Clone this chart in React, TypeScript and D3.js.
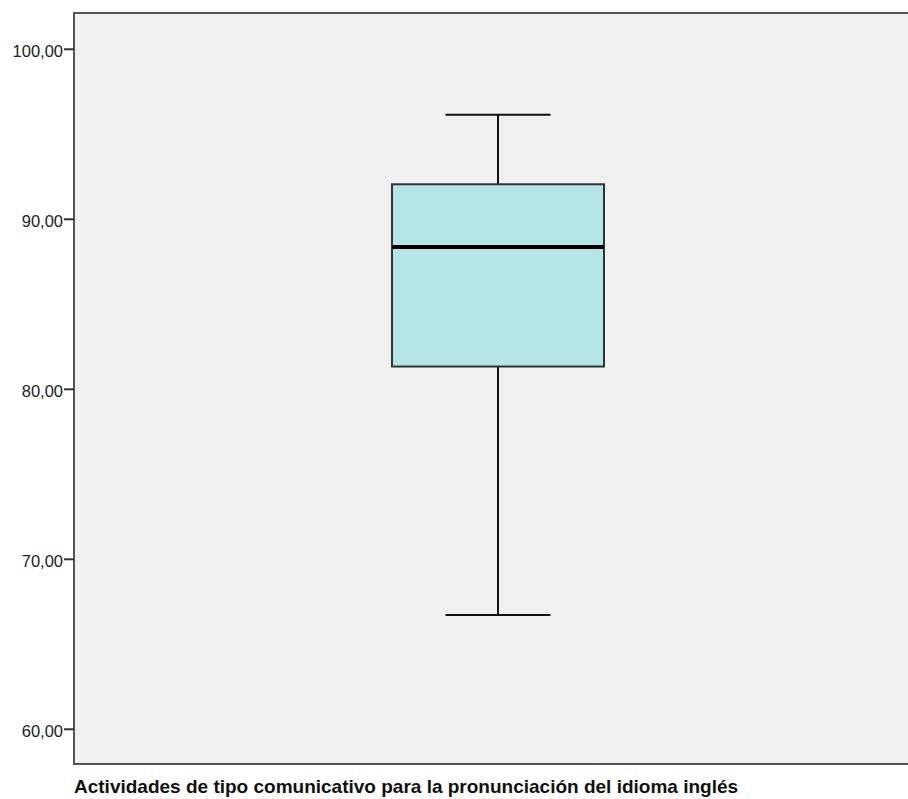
import React from "react";
import * as d3 from "d3";

const categories = ["Actividades de tipo comunicativo para la pronunciación del idioma inglés"];
const whiskerLow = [66.72];
const q1 = [81.34];
const median = [88.37];
const q3 = [92.06];
const whiskerHigh = [96.15];
const yTicks = [60, 70, 80, 90, 100];

const W = 908;
const H = 799;
const frame = { left: 74, top: 13, right: 922, bottom: 764 };

export default function App() {
  const y = d3.scaleLinear().domain([60, 100]).range([729.3, 49.3]);
  const x = d3.scalePoint<string>().domain(categories).range([frame.left, frame.right]).padding(0.5);
  const boxW = 212;
  const capW = 105;
  const fmt = (v: number) => d3.format(".2f")(v).replace(".", ",");

  return (
    <svg width={W} height={H} style={{ position: "absolute", left: 0, top: 0, fontFamily: "'Liberation Sans', Arial, sans-serif" }}>
      <rect x={0} y={0} width={W} height={H} fill="#ffffff" />
      <rect x={frame.left} y={frame.top} width={frame.right - frame.left} height={frame.bottom - frame.top}
        fill="#f0f0f0" stroke="#555" strokeWidth={2} />
      {yTicks.map(t => (
        <g key={t}>
          <line x1={frame.left - 10} x2={frame.left} y1={y(t)} y2={y(t)} stroke="#333" strokeWidth={2} />
          <text x={frame.left - 11} y={y(t)} dy="0.45em" textAnchor="end" fontSize={16.5} fill="#222">{fmt(t)}</text>
        </g>
      ))}
      {categories.map((c, i) => {
        const cx = x(c) as number;
        return (
          <g key={c}>
            <line x1={cx} x2={cx} y1={y(whiskerHigh[i])} y2={y(q3[i])} stroke="#111" strokeWidth={2} />
            <line x1={cx} x2={cx} y1={y(q1[i])} y2={y(whiskerLow[i])} stroke="#111" strokeWidth={2} />
            <line x1={cx - capW / 2} x2={cx + capW / 2} y1={y(whiskerHigh[i])} y2={y(whiskerHigh[i])} stroke="#111" strokeWidth={2} />
            <line x1={cx - capW / 2} x2={cx + capW / 2} y1={y(whiskerLow[i])} y2={y(whiskerLow[i])} stroke="#111" strokeWidth={2} />
            <rect x={cx - boxW / 2} y={y(q3[i])} width={boxW} height={y(q1[i]) - y(q3[i])}
              fill="#b4e6e6" stroke="#333" strokeWidth={2} />
            <line x1={cx - boxW / 2} x2={cx + boxW / 2} y1={y(median[i])} y2={y(median[i])} stroke="#000" strokeWidth={4} />
          </g>
        );
      })}
      <text x={frame.left} y={793} fontSize={19} fontWeight="bold" fill="#111">{categories[0]}</text>
    </svg>
  );
}
